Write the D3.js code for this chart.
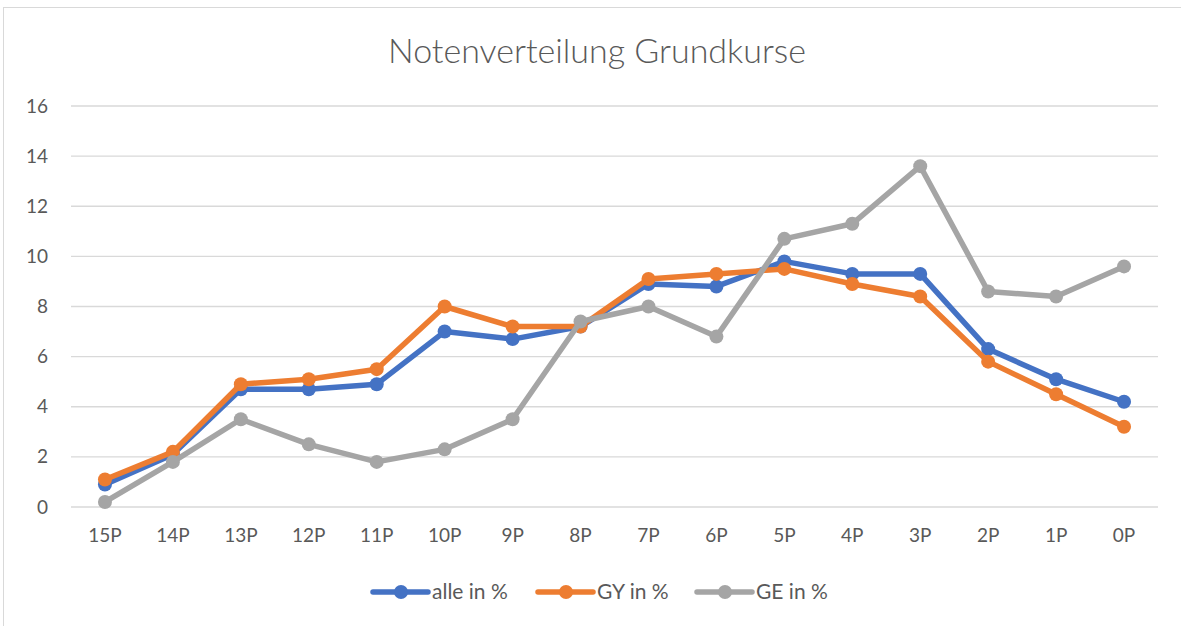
<!DOCTYPE html>
<html>
<head>
<meta charset="utf-8">
<script src="https://cdn.jsdelivr.net/npm/d3@7"></script>
<style>
  body { margin: 0; background: #fff; }
  text { font-family: Lato, "Open Sans", sans-serif; fill: #595959; }
</style>
</head>
<body>
<div id="chart"></div>
<script>
// Data
const categories = ["15P", "14P", "13P", "12P", "11P", "10P", "9P", "8P", "7P", "6P", "5P", "4P", "3P", "2P", "1P", "0P"];
const alle = [0.9, 2.1, 4.7, 4.7, 4.9, 7.0, 6.7, 7.2, 8.9, 8.8, 9.8, 9.3, 9.3, 6.3, 5.1, 4.2];
const gy = [1.1, 2.2, 4.9, 5.1, 5.5, 8.0, 7.2, 7.2, 9.1, 9.3, 9.5, 8.9, 8.4, 5.8, 4.5, 3.2];
const ge = [0.2, 1.8, 3.5, 2.5, 1.8, 2.3, 3.5, 7.4, 8.0, 6.8, 10.7, 11.3, 13.6, 8.6, 8.4, 9.6];
const seriesNames = ["alle in %", "GY in %", "GE in %"];
const yTicks = [0, 2, 4, 6, 8, 10, 12, 14, 16];

const series = [alle, gy, ge].map((values, i) => ({ name: seriesNames[i], values: values }));
const colors = ["#4472c4", "#ed7d31", "#a5a5a5"];

const width = 1181, height = 626;
const svg = d3.select("#chart").append("svg")
    .attr("width", width)
    .attr("height", height);

// chart border
svg.append("rect")
    .attr("x", 3.5).attr("y", 7.5)
    .attr("width", 1300).attr("height", 800)
    .attr("fill", "none")
    .attr("stroke", "#d9d9d9");

// title
svg.append("text")
    .attr("x", 597).attr("y", 63)
    .attr("text-anchor", "middle")
    .style("font-size", "34px")
    .style("font-weight", 300)
    .text("Notenverteilung Grundkurse");

const xScale = d3.scaleBand()
    .domain(categories)
    .range([71, 1158]);

const yScale = d3.scaleLinear()
    .domain([0, 16])
    .range([507, 106]);

// gridlines
svg.append("g")
    .selectAll("line")
    .data(yTicks)
    .enter()
    .append("line")
        .attr("x1", 71).attr("x2", 1158)
        .attr("y1", d => yScale(d)).attr("y2", d => yScale(d))
        .attr("stroke", "#d9d9d9")
        .attr("stroke-width", 1.3);

// y labels
const yAxis = svg.append("g")
    .attr("transform", "translate(53,0)")
    .call(d3.axisLeft(yScale).tickValues(yTicks).tickSize(0).tickPadding(5));
yAxis.select(".domain").remove();
yAxis.selectAll("text").style("font-size", "19px").attr("fill", "#595959");

// x labels
const xAxis = svg.append("g")
    .attr("transform", "translate(0,523)")
    .call(d3.axisBottom(xScale).tickSize(0).tickPadding(6));
xAxis.select(".domain").remove();
xAxis.selectAll("text").style("font-size", "19px").attr("fill", "#595959");

const cx = i => xScale(categories[i]) + xScale.bandwidth() / 2;
const line = d3.line()
    .x((d, i) => cx(i))
    .y(d => yScale(d));

const plot = svg.append("g");
series.forEach((s, k) => {
    plot.append("path")
        .datum(s.values)
        .attr("d", line)
        .attr("fill", "none")
        .attr("stroke", colors[k])
        .attr("stroke-width", 5.5)
        .attr("stroke-linejoin", "round");
    plot.append("g")
        .selectAll("circle")
        .data(s.values)
        .enter()
        .append("circle")
            .attr("cx", (d, i) => cx(i))
            .attr("cy", d => yScale(d))
            .attr("r", 7)
            .attr("fill", colors[k]);
});

// legend
const legendX = [373, 538, 697];
const legend = svg.append("g");
series.forEach((s, k) => {
    const g = legend.append("g").attr("transform", `translate(${legendX[k]},592)`);
    g.append("line")
        .attr("x1", 0).attr("x2", 55)
        .attr("stroke", colors[k])
        .attr("stroke-width", 5.5)
        .attr("stroke-linecap", "round");
    g.append("circle")
        .attr("cx", 28).attr("r", 7)
        .attr("fill", colors[k]);
    g.append("text")
        .attr("x", 59).attr("y", 7)
        .style("font-size", "21px")
        .text(s.name);
});
</script>
</body>
</html>
